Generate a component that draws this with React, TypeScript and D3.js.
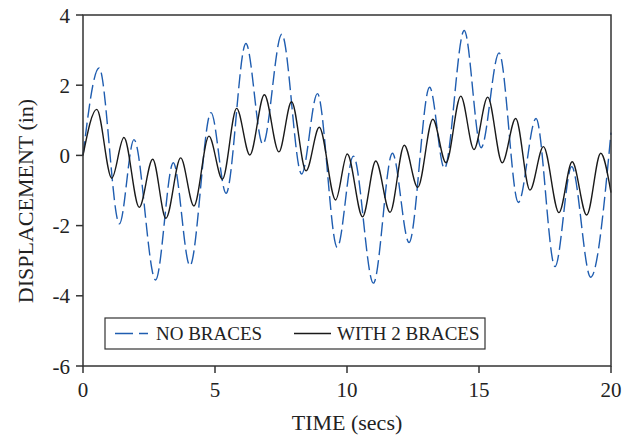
import React from "react";
import * as d3 from "d3";

const noBracesT = [0, 0.61, 1.38, 1.93, 2.75, 3.42, 4.05, 4.85, 5.42, 6.17, 6.81, 7.53, 8.28, 8.88, 9.63, 10.24, 11.0, 11.72, 12.35, 13.13, 13.69, 14.44, 15.08, 15.76, 16.49, 17.16, 17.88, 18.51, 19.23, 20.0];
const noBracesY = [0, 2.49, -1.95, 0.45, -3.55, -0.21, -3.14, 1.22, -1.08, 3.19, 0.32, 3.45, -0.53, 1.76, -2.62, -0.02, -3.64, 0.06, -2.48, 1.94, -0.37, 3.56, 0.22, 2.92, -1.34, 1.05, -3.17, -0.32, -3.47, 0.65];

const bracesT = [0, 0.52, 1.09, 1.55, 2.13, 2.64, 3.14, 3.7, 4.2, 4.77, 5.28, 5.82, 6.32, 6.87, 7.42, 7.9, 8.45, 8.95, 9.57, 10.01, 10.59, 11.09, 11.63, 12.17, 12.68, 13.25, 13.75, 14.31, 14.81, 15.33, 15.88, 16.39, 16.93, 17.44, 18.03, 18.53, 19.08, 19.61, 20.0];
const bracesY = [0, 1.31, -0.65, 0.51, -1.48, -0.11, -1.79, -0.07, -1.44, 0.55, -0.68, 1.34, 0.01, 1.73, 0.1, 1.53, -0.44, 0.8, -1.27, 0.04, -1.75, -0.16, -1.62, 0.29, -0.91, 1.03, -0.21, 1.69, 0.17, 1.66, -0.21, 1.05, -0.99, 0.25, -1.63, -0.18, -1.7, 0.06, -1.06];

const xTicks = [0, 5, 10, 15, 20];
const yTicks = [-6, -4, -2, 0, 2, 4];
const seriesNames = ["NO BRACES", "WITH 2 BRACES"];
const xTitle = "TIME (secs)";
const yTitle = "DISPLACEMENT (in)";

const W = 629, H = 440;
const L = 83, R = 611, T = 15, B = 366;
const FONT = "'Liberation Serif', 'Times New Roman', serif";
const BLUE = "#1f5db0";

export default function App() {
  const x = d3.scaleLinear().domain([0, 20]).range([L, R]);
  const y = d3.scaleLinear().domain([-6, 4]).range([B, T]);
  const line = d3.line<[number, number]>()
    .x(d => x(d[0]))
    .y(d => y(d[1]))
    .curve(d3.curveMonotoneX);
  const blue = line(noBracesT.map((t, i) => [t, noBracesY[i]] as [number, number])) || "";
  const black = line(bracesT.map((t, i) => [t, bracesY[i]] as [number, number])) || "";

  return (
    <svg width={W} height={H} style={{ position: "absolute", left: 0, top: 0 }} fontFamily={FONT}>
      <rect x={0} y={0} width={W} height={H} fill="#fff" />
      <path d={blue} fill="none" stroke={BLUE} strokeWidth={1.4} strokeDasharray="14,5" />
      <path d={black} fill="none" stroke="#1a1a1a" strokeWidth={1.4} />
      <rect x={L} y={T} width={R - L} height={B - T} fill="none" stroke="#333" strokeWidth={1.5} />
      {yTicks.map(v => (
        <g key={"y" + v}>
          <line x1={L - 7} x2={L} y1={y(v)} y2={y(v)} stroke="#333" strokeWidth={1.5} />
          <text x={70} y={y(v)} dy="0.36em" textAnchor="end" fontSize={21} fill="#222">{v}</text>
        </g>
      ))}
      {xTicks.map(v => (
        <g key={"x" + v}>
          <line x1={x(v)} x2={x(v)} y1={B} y2={B + 7} stroke="#333" strokeWidth={1.5} />
          <text x={x(v)} y={397} textAnchor="middle" fontSize={21} fill="#222">{v}</text>
        </g>
      ))}
      <text x={347} y={430} textAnchor="middle" fontSize={22} fill="#222">{xTitle}</text>
      <text transform={`translate(33,201) rotate(-90)`} textAnchor="middle" fontSize={22} fill="#222">{yTitle}</text>
      <g>
        <rect x={105} y={318} width={380} height={31} fill="#fff" stroke="#333" strokeWidth={1.2} />
        <line x1={115} x2={148} y1={333.5} y2={333.5} stroke={BLUE} strokeWidth={1.4} strokeDasharray="18,6" />
        <text x={156} y={340} fontSize={19} fill="#222">{seriesNames[0]}</text>
        <line x1={294} x2={331} y1={333.5} y2={333.5} stroke="#1a1a1a" strokeWidth={1.4} />
        <text x={337} y={340} fontSize={19} fill="#222">{seriesNames[1]}</text>
      </g>
    </svg>
  );
}
